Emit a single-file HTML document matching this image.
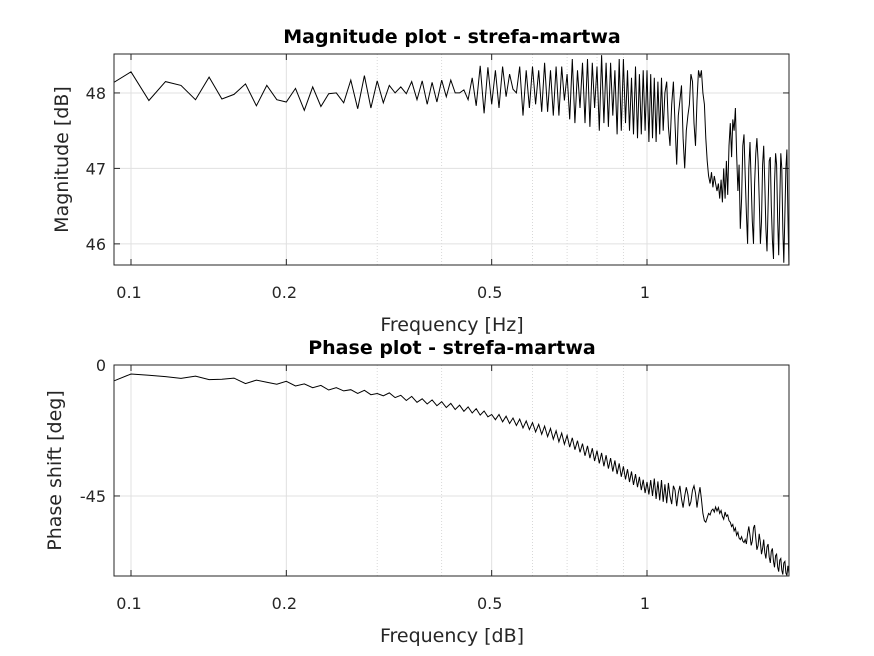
<!DOCTYPE html>
<html><head><meta charset="utf-8"><style>
body{margin:0;background:#fff;}
svg{display:block;font-family:"DejaVu Sans","Liberation Sans",sans-serif;}
</style></head><body>
<svg id="fig" width="874" height="656"></svg>
<script>
const magStartK = 11;
const freqStep = 1/120;
const magValues = [48.12,48.28,47.9,48.15,48.1,47.91,48.21,47.92,47.98,48.12,47.83,48.1,47.91,47.88,48.06,47.77,48.08,47.82,47.99,48.0,47.87,48.17,47.79,48.23,47.8,48.16,47.87,48.1,48.0,48.08,47.99,48.15,47.91,48.16,47.85,48.14,47.88,48.17,47.95,48.17,48.0,48.0,48.04,47.91,48.2,47.83,48.36,47.73,48.34,
47.85,48.3,47.8,48.35,47.95,48.25,48.05,48.0,48.35,47.7,48.3,47.8,48.35,47.85,48.3,47.75,48.4,47.75,48.3,47.7,48.35,47.7,48.35,47.9,48.25,47.65,48.45,47.6,48.3,47.8,48.4,47.6,48.45,47.55,48.4,47.8,48.35,47.5,48.5,47.6,48.4,47.55,48.4,47.7,48.3,47.45,48.45,47.5,48.45,47.6,48.3,47.5,48.2,47.45,48.35,47.4,48.25,47.45,48.3,47.5,48.3,
47.35,48.25,47.4,48.2,47.35,48.15,47.45,48.2,47.5,48.0,48.15,47.55,47.3,47.85,48.15,47.6,47.05,47.7,47.9,48.1,47.4,47.0,47.5,47.7,47.85,48.25,48.15,47.6,47.3,47.9,48.3,48.2,48.3,48.0,47.85,47.4,47.1,46.9,46.8,46.95,46.75,46.9,46.8,46.7,46.8,46.6,46.85,46.55,47.0,46.6,47.1,
46.65,47.3,47.6,47.15,47.65,47.5,47.8,47.2,46.7,47.05,46.2,46.6,47.3,47.45,46.9,46.4,46.0,47.0,47.35,46.8,46.3,46.0,46.8,47.2,47.4,47.1,46.6,46.0,46.3,47.05,47.3,46.8,46.2,45.9,46.5,47.1,47.15,46.5,46.05,45.8,46.8,47.2,47.05,46.3,45.85,46.6,47.2,47.0,46.2,45.75,46.4,47.0,47.25,46.4,45.72,47.1];
const phaseValues = [-5.8,-3.1,-3.5,-4.0,-4.6,-3.8,-5.0,-4.9,-4.5,-6.4,-5.2,-5.9,-6.6,-5.6,-7.2,-6.5,-7.8,-7.0,-8.6,-7.8,-8.9,-8.5,-9.8,-8.7,-10.2,-9.8,-10.6,-9.6,-11.2,-10.4,
-12.2,-10.8,-12.8,-11.6,-13.4,-12.0,-14.0,-12.6,-14.6,-13.2,-15.3,-13.8,-15.9,-14.4,-16.5,-15.0,-17.2,-15.8,-17.8,-17.0,
-18.8,-17.0,-19.5,-17.6,-20.1,-18.2,-20.8,-18.6,-21.6,-19.2,-22.2,-19.8,-23.0,-20.4,-23.8,-21.0,-24.6,-21.8,-25.5,-22.6,-26.4,-23.4,-27.2,-24.2,-28.2,-25.0,-29.1,-26.0,-30.0,-27.0,
-31.2,-27.8,-32.0,-28.6,-33.0,-29.4,-33.8,-30.2,-34.8,-31.0,-35.6,-32.0,-36.6,-32.8,-37.5,-33.8,-38.4,-34.8,-39.3,-35.8,-40.2,-36.6,-41.2,-37.5,-42.0,-38.4,-43.0,-39.4,-44.0,-40.2,
-44.5,-39.5,-45.0,-39.0,-46.0,-40.0,-46.5,-39.5,-47.0,-41.0,-47.5,-40.5,-45.0,-47.8,-41.5,-43.0,-48.5,-44.0,-41.5,-46.0,-49.0,-45.0,-42.0,-44.5,-48.5,-47.0,-43.0,-41.5,-44.0,-49.0,
-45.0,-42.0,-46.0,-51.0,-53.5,-54.0,-52.5,-51.0,-51.5,-50.0,-49.5,-50.5,-48.8,-50.2,-49.0,-51.0,-50.0,-52.0,-53.0,
-50.5,-52.0,-51.5,-53.5,-54.0,-55.5,-54.8,-57.0,-56.0,-58.5,-57.5,-59.5,-60.0,-59.0,-60.5,-61.0,-60.0,-61.5,
-58.0,-55.5,-58.5,-62.0,-60.5,-56.0,-55.0,-59.5,-63.5,-62.0,-58.0,-61.0,-65.0,-63.0,-60.0,-64.5,-66.5,-62.5,-61.5,-66.0,-68.0,-64.0,-63.0,-67.5,-69.5,-65.5,-65.0,-69.5,-71.0,-67.0,-66.5,-70.5,-72.0,-68.0,-67.5,-71.5,-72.3,-69.0,-71.5];
const xMajorTicks = [0.1,0.2,0.5,1];
const xMajorLabels = ["0.1","0.2","0.5","1"];
const xMinorGrid = [0.3,0.4,0.6,0.7,0.8,0.9];
const magTicks = [46,47,48];
const magTickLabels = ["46","47","48"];
const phaseTicks = [-45,0];
const phaseTickLabels = ["-45","0"];

const NS="http://www.w3.org/2000/svg";
const svg=document.getElementById('fig');
const X0=114,X1=789,FMIN=Math.pow(10,-1-17/516),FMAX=Math.pow(10,-1+658/516);
function xs(f){return X0+(Math.log10(f)-Math.log10(FMIN))/(Math.log10(FMAX)-Math.log10(FMIN))*(X1-X0);}
function mk(tag,attrs,parent){const e=document.createElementNS(NS,tag);for(const k in attrs)e.setAttribute(k,attrs[k]);(parent||svg).appendChild(e);return e;}

function panel(o){
  const g=mk('g',{});
  
  
  const ys=v=>o.y1-(v-o.vmin)/(o.vmax-o.vmin)*(o.y1-o.y0);
  mk('rect',{x:X0,y:o.y0,width:X1-X0,height:o.y1-o.y0,fill:'#fff'},g);
  xMinorGrid.forEach(f=>{const l=mk('line',{x1:xs(f),x2:xs(f),y1:o.y0,y2:o.y1,stroke:'#d0d0d0','stroke-width':0.8,'stroke-dasharray':'1,2'},g);
    });
  xMajorTicks.forEach((f,i)=>{const x=xs(f);
    const l=mk('line',{x1:x,x2:x,y1:o.y0,y2:o.y1,stroke:'#e0e0e0','stroke-width':1},g);
    
    mk('line',{x1:x,x2:x,y1:o.y1,y2:o.y1-6,stroke:'#262626'},g);
    mk('line',{x1:x,x2:x,y1:o.y0,y2:o.y0+6,stroke:'#262626'},g);
    const t=mk('text',{x:x-2,y:o.y1+33,'text-anchor':'middle','font-size':16,fill:'#262626'},g);t.textContent=xMajorLabels[i];
    });
  o.ticks.forEach((v,i)=>{const y=ys(v);
    const l=mk('line',{x1:X0,x2:X1,y1:y,y2:y,stroke:'#e0e0e0'},g);
    
    mk('line',{x1:X0,x2:X0+6,y1:y,y2:y,stroke:'#262626'},g);
    mk('line',{x1:X1,x2:X1-6,y1:y,y2:y,stroke:'#262626'},g);
    const t=mk('text',{x:X0-8,y:y+6,'text-anchor':'end','font-size':16,fill:'#262626'},g);t.textContent=o.labels[i];
    });
  const clip=mk('clipPath',{id:'c'+o.name},g);mk('rect',{x:X0,y:o.y0,width:X1-X0,height:o.y1-o.y0},clip);
  const pts=o.data.map((v,i)=>xs((magStartK+i)*freqStep).toFixed(1)+','+ys(v).toFixed(1)).join(' ');
  const pl=mk('polyline',{points:pts,fill:'none',stroke:'#000','stroke-width':1,'clip-path':'url(#c'+o.name+')'},g);
  
  mk('rect',{x:X0,y:o.y0,width:X1-X0,height:o.y1-o.y0,fill:'none',stroke:'#262626','stroke-width':1},g);
  const tt=mk('text',{x:452,y:o.y0-11,'text-anchor':'middle','font-size':19,'font-weight':'bold',fill:'#000'},g);tt.textContent=o.title;
  
  const xl=mk('text',{x:452,y:o.y1+66,'text-anchor':'middle','font-size':19,fill:'#262626'},g);xl.textContent=o.xlabel;
  
  const cy=(o.y0+o.y1)/2;
  const yl=mk('text',{x:o.ylx,y:cy,'text-anchor':'middle','font-size':19,fill:'#262626',transform:'rotate(-90 '+o.ylx+' '+cy+')'},g);yl.textContent=o.ylabel;
  
}
panel({name:'magnitude-plot',y0:54,y1:265,vmin:45.72,vmax:48.516,data:magValues,ticks:magTicks,labels:magTickLabels,
  title:'Magnitude plot - strefa-martwa',xlabel:'Frequency [Hz]',ylabel:'Magnitude [dB]',ylx:68});
panel({name:'phase-plot',y0:365,y1:576,vmin:-72.5,vmax:0,data:phaseValues,ticks:phaseTicks,labels:phaseTickLabels,
  title:'Phase plot - strefa-martwa',xlabel:'Frequency [dB]',ylabel:'Phase shift [deg]',ylx:61});
</script>
</body></html>
